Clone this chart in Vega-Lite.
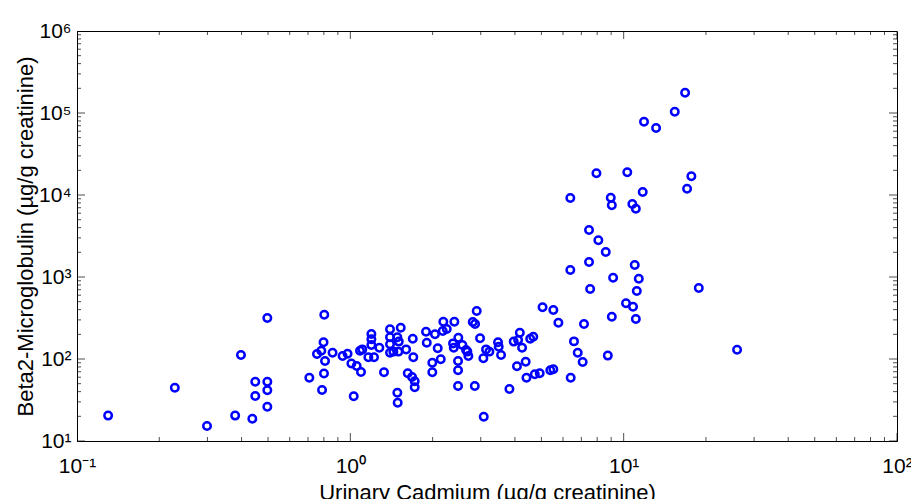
{
  "$schema": "https://vega.github.io/schema/vega-lite/v6.json",
  "width": 820,
  "height": 410,
  "autosize": "none",
  "padding": {"left": 77, "top": 31, "right": 14, "bottom": 58},
  "background": "white",
  "config": {
    "view": {"stroke": "black", "strokeWidth": 1},
    "axis": {
      "grid": false,
      "labelFont": "Liberation Sans",
      "labelFontSize": 21,
      "labelColor": "black",
      "labelFlush": false,
      "titleFont": "Liberation Sans",
      "titleFontSize": 22,
      "titleFontWeight": "normal",
      "titleColor": "black",
      "domainColor": "black",
      "domainWidth": 1
    }
  },
  "datasets": {
    "xmajor": [{"v": 0.1}, {"v": 1}, {"v": 10}, {"v": 100}],
    "xminor": [{"v": 0.2}, {"v": 0.3}, {"v": 0.4}, {"v": 0.5}, {"v": 0.6}, {"v": 0.7}, {"v": 0.8}, {"v": 0.9},
               {"v": 2}, {"v": 3}, {"v": 4}, {"v": 5}, {"v": 6}, {"v": 7}, {"v": 8}, {"v": 9},
               {"v": 20}, {"v": 30}, {"v": 40}, {"v": 50}, {"v": 60}, {"v": 70}, {"v": 80}, {"v": 90}],
    "ymajor": [{"v": 10}, {"v": 100}, {"v": 1000}, {"v": 10000}, {"v": 100000}, {"v": 1000000}],
    "yminor": [{"v": 20}, {"v": 30}, {"v": 40}, {"v": 50}, {"v": 60}, {"v": 70}, {"v": 80}, {"v": 90},
               {"v": 200}, {"v": 300}, {"v": 400}, {"v": 500}, {"v": 600}, {"v": 700}, {"v": 800}, {"v": 900},
               {"v": 2000}, {"v": 3000}, {"v": 4000}, {"v": 5000}, {"v": 6000}, {"v": 7000}, {"v": 8000}, {"v": 9000},
               {"v": 20000}, {"v": 30000}, {"v": 40000}, {"v": 50000}, {"v": 60000}, {"v": 70000}, {"v": 80000}, {"v": 90000},
               {"v": 200000}, {"v": 300000}, {"v": 400000}, {"v": 500000}, {"v": 600000}, {"v": 700000}, {"v": 800000}, {"v": 900000}],
    "points": [
      {"cd": 0.130, "b2m": 20.4}, {"cd": 0.228, "b2m": 44.7}, {"cd": 0.299, "b2m": 15.2}, {"cd": 0.379, "b2m": 20.4},
      {"cd": 0.438, "b2m": 18.7}, {"cd": 0.398, "b2m": 112}, {"cd": 0.449, "b2m": 52.9}, {"cd": 0.449, "b2m": 35.4},
      {"cd": 0.497, "b2m": 52.9}, {"cd": 0.497, "b2m": 41.5}, {"cd": 0.497, "b2m": 26.2}, {"cd": 0.497, "b2m": 316},
      {"cd": 0.708, "b2m": 59.2}, {"cd": 0.788, "b2m": 41.9}, {"cd": 0.755, "b2m": 115}, {"cd": 0.783, "b2m": 126},
      {"cd": 0.798, "b2m": 160}, {"cd": 0.808, "b2m": 94.5}, {"cd": 0.801, "b2m": 66.6}, {"cd": 0.803, "b2m": 347},
      {"cd": 0.861, "b2m": 119}, {"cd": 0.937, "b2m": 109}, {"cd": 0.977, "b2m": 116}, {"cd": 1.009, "b2m": 88.1},
      {"cd": 1.029, "b2m": 35.2}, {"cd": 1.055, "b2m": 82.2}, {"cd": 1.094, "b2m": 69.4}, {"cd": 1.085, "b2m": 126},
      {"cd": 1.106, "b2m": 131}, {"cd": 1.164, "b2m": 105}, {"cd": 1.194, "b2m": 202}, {"cd": 1.194, "b2m": 174},
      {"cd": 1.194, "b2m": 148}, {"cd": 1.221, "b2m": 105}, {"cd": 1.277, "b2m": 137}, {"cd": 1.328, "b2m": 68.8},
      {"cd": 1.397, "b2m": 230}, {"cd": 1.397, "b2m": 184}, {"cd": 1.397, "b2m": 151}, {"cd": 1.397, "b2m": 119},
      {"cd": 1.437, "b2m": 123}, {"cd": 1.486, "b2m": 184}, {"cd": 1.529, "b2m": 241}, {"cd": 1.504, "b2m": 163},
      {"cd": 1.499, "b2m": 123}, {"cd": 1.486, "b2m": 38.8}, {"cd": 1.490, "b2m": 29.3}, {"cd": 1.600, "b2m": 131},
      {"cd": 1.622, "b2m": 66.9}, {"cd": 1.692, "b2m": 177}, {"cd": 1.700, "b2m": 105}, {"cd": 1.682, "b2m": 60.3},
      {"cd": 1.720, "b2m": 53.5}, {"cd": 1.720, "b2m": 45.2}, {"cd": 1.892, "b2m": 215}, {"cd": 1.904, "b2m": 158},
      {"cd": 1.995, "b2m": 90.1}, {"cd": 1.995, "b2m": 68.8}, {"cd": 2.040, "b2m": 200}, {"cd": 2.088, "b2m": 135},
      {"cd": 2.142, "b2m": 99.2}, {"cd": 2.189, "b2m": 285}, {"cd": 2.178, "b2m": 219}, {"cd": 2.253, "b2m": 232},
      {"cd": 2.402, "b2m": 285}, {"cd": 2.376, "b2m": 155}, {"cd": 2.390, "b2m": 137}, {"cd": 2.484, "b2m": 182},
      {"cd": 2.478, "b2m": 94.5}, {"cd": 2.478, "b2m": 72.8}, {"cd": 2.478, "b2m": 46.8}, {"cd": 2.570, "b2m": 148},
      {"cd": 2.650, "b2m": 129}, {"cd": 2.680, "b2m": 123}, {"cd": 2.703, "b2m": 109}, {"cd": 2.805, "b2m": 283},
      {"cd": 2.860, "b2m": 267}, {"cd": 2.900, "b2m": 385}, {"cd": 2.853, "b2m": 46.8}, {"cd": 2.983, "b2m": 179},
      {"cd": 3.067, "b2m": 102}, {"cd": 3.137, "b2m": 131}, {"cd": 3.226, "b2m": 123}, {"cd": 3.077, "b2m": 19.8},
      {"cd": 3.470, "b2m": 160}, {"cd": 3.490, "b2m": 141}, {"cd": 3.560, "b2m": 112}, {"cd": 3.820, "b2m": 43.1},
      {"cd": 3.960, "b2m": 163}, {"cd": 4.110, "b2m": 170}, {"cd": 4.070, "b2m": 81.5}, {"cd": 4.170, "b2m": 209},
      {"cd": 4.250, "b2m": 137}, {"cd": 4.380, "b2m": 92.7}, {"cd": 4.410, "b2m": 59.2}, {"cd": 4.550, "b2m": 177},
      {"cd": 4.670, "b2m": 187}, {"cd": 4.730, "b2m": 65.1}, {"cd": 4.930, "b2m": 66.9}, {"cd": 5.050, "b2m": 427},
      {"cd": 5.390, "b2m": 72.8}, {"cd": 5.530, "b2m": 74.9}, {"cd": 5.530, "b2m": 396}, {"cd": 5.770, "b2m": 277},
      {"cd": 6.400, "b2m": 59.2}, {"cd": 6.580, "b2m": 164}, {"cd": 6.790, "b2m": 119}, {"cd": 7.080, "b2m": 91.9},
      {"cd": 7.160, "b2m": 267}, {"cd": 7.540, "b2m": 714},
      {"cd": 16.78, "b2m": 176800}, {"cd": 15.38, "b2m": 103700}, {"cd": 11.87, "b2m": 78300}, {"cd": 13.14, "b2m": 65600},
      {"cd": 7.95, "b2m": 18390}, {"cd": 10.31, "b2m": 18920}, {"cd": 17.69, "b2m": 16900}, {"cd": 17.06, "b2m": 11940},
      {"cd": 6.38, "b2m": 9190}, {"cd": 8.97, "b2m": 9270}, {"cd": 9.05, "b2m": 7490}, {"cd": 11.74, "b2m": 10880},
      {"cd": 10.76, "b2m": 7770}, {"cd": 11.08, "b2m": 6810}, {"cd": 7.47, "b2m": 3743}, {"cd": 8.08, "b2m": 2803},
      {"cd": 8.60, "b2m": 2018}, {"cd": 7.47, "b2m": 1524}, {"cd": 6.38, "b2m": 1217}, {"cd": 10.98, "b2m": 1401},
      {"cd": 9.15, "b2m": 980}, {"cd": 11.36, "b2m": 953}, {"cd": 11.17, "b2m": 675}, {"cd": 18.83, "b2m": 734},
      {"cd": 10.20, "b2m": 478}, {"cd": 10.82, "b2m": 434}, {"cd": 9.05, "b2m": 328}, {"cd": 11.08, "b2m": 307},
      {"cd": 8.75, "b2m": 110}, {"cd": 26.0, "b2m": 130}
    ]
  },
  "layer": [
    {
      "data": {"name": "points"},
      "mark": {"type": "point", "filled": false, "color": "#0000ff", "size": 56, "strokeWidth": 2.5, "opacity": 1},
      "encoding": {
        "x": {
          "field": "cd", "type": "quantitative",
          "scale": {"type": "log", "domain": [0.1, 100], "nice": false},
          "axis": {
            "orient": "bottom",
            "title": "Urinary Cadmium (µg/g creatinine)",
            "titlePadding": 6,
            "values": [0.1, 1, 10, 100],
            "labelExpr": "datum.value == 0.1 ? '10⁻¹' : datum.value == 1 ? '10⁰' : datum.value == 10 ? '10¹' : '10²'",
            "labelPadding": 14,
            "ticks": false,
            "tickSize": 0
          }
        },
        "y": {
          "field": "b2m", "type": "quantitative",
          "scale": {"type": "log", "domain": [10, 1000000], "nice": false},
          "axis": {
            "orient": "left",
            "title": "Beta2-Microglobulin (µg/g creatinine)",
            "titlePadding": 1,
            "values": [10, 100, 1000, 10000, 100000, 1000000],
            "labelExpr": "datum.value == 10 ? '10¹' : datum.value == 100 ? '10²' : datum.value == 1000 ? '10³' : datum.value == 10000 ? '10⁴' : datum.value == 100000 ? '10⁵' : '10⁶'",
            "labelPadding": 6,
            "ticks": false,
            "tickSize": 0
          }
        }
      }
    },
    {
      "data": {"name": "xmajor"},
      "mark": {"type": "tick", "orient": "vertical", "size": 16, "thickness": 1, "color": "black", "clip": true},
      "encoding": {
        "x": {"field": "v", "type": "quantitative", "axis": null},
        "y": {"datum": 10, "type": "quantitative", "axis": null}
      }
    },
    {
      "data": {"name": "xmajor"},
      "mark": {"type": "tick", "orient": "vertical", "size": 16, "thickness": 1, "color": "black", "clip": true},
      "encoding": {
        "x": {"field": "v", "type": "quantitative", "axis": null},
        "y": {"datum": 1000000, "type": "quantitative", "axis": null}
      }
    },
    {
      "data": {"name": "xminor"},
      "mark": {"type": "tick", "orient": "vertical", "size": 8, "thickness": 1, "color": "black", "clip": true},
      "encoding": {
        "x": {"field": "v", "type": "quantitative", "axis": null},
        "y": {"datum": 10, "type": "quantitative", "axis": null}
      }
    },
    {
      "data": {"name": "xminor"},
      "mark": {"type": "tick", "orient": "vertical", "size": 8, "thickness": 1, "color": "black", "clip": true},
      "encoding": {
        "x": {"field": "v", "type": "quantitative", "axis": null},
        "y": {"datum": 1000000, "type": "quantitative", "axis": null}
      }
    },
    {
      "data": {"name": "ymajor"},
      "mark": {"type": "tick", "orient": "horizontal", "size": 16, "thickness": 1, "color": "black", "clip": true},
      "encoding": {
        "y": {"field": "v", "type": "quantitative", "axis": null},
        "x": {"datum": 0.1, "type": "quantitative", "axis": null}
      }
    },
    {
      "data": {"name": "ymajor"},
      "mark": {"type": "tick", "orient": "horizontal", "size": 16, "thickness": 1, "color": "black", "clip": true},
      "encoding": {
        "y": {"field": "v", "type": "quantitative", "axis": null},
        "x": {"datum": 100, "type": "quantitative", "axis": null}
      }
    },
    {
      "data": {"name": "yminor"},
      "mark": {"type": "tick", "orient": "horizontal", "size": 8, "thickness": 1, "color": "black", "clip": true},
      "encoding": {
        "y": {"field": "v", "type": "quantitative", "axis": null},
        "x": {"datum": 0.1, "type": "quantitative", "axis": null}
      }
    },
    {
      "data": {"name": "yminor"},
      "mark": {"type": "tick", "orient": "horizontal", "size": 8, "thickness": 1, "color": "black", "clip": true},
      "encoding": {
        "y": {"field": "v", "type": "quantitative", "axis": null},
        "x": {"datum": 100, "type": "quantitative", "axis": null}
      }
    }
  ],
  "resolve": {"axis": {"x": "independent", "y": "independent"}}
}
